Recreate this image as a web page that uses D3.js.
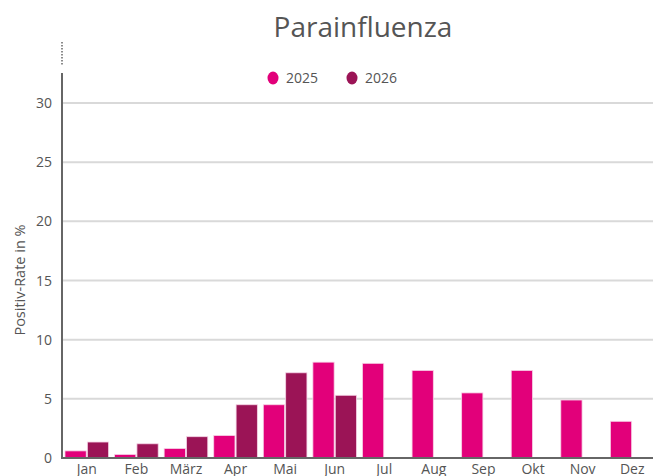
<!DOCTYPE html>
<html>
<head>
<meta charset="utf-8">
<script src="https://cdn.jsdelivr.net/npm/d3@7"></script>
<style>
  body { margin: 0; background: #fff; }
  svg { display: block; font-family: "Open Sans", sans-serif; }
</style>
</head>
<body>
<script>
var months = ['Jan', 'Feb', 'März', 'Apr', 'Mai', 'Jun', 'Jul', 'Aug', 'Sep', 'Okt', 'Nov', 'Dez'];
var seriesNames = ['2025', '2026'];
var values2025 = [0.6, 0.3, 0.8, 1.9, 4.5, 8.1, 8.0, 7.4, 5.5, 7.4, 4.9, 3.1];
var values2026 = [1.35, 1.2, 1.8, 4.5, 7.2, 5.3, null, null, null, null, null, null];
var yTicks = [0, 5, 10, 15, 20, 25, 30];
var colors = ['#e2007a', '#9b1456'];

var width = 653, height = 476;
var margin = { top: 73, left: 62, bottom: 18 };
var plotRight = 657;

var svg = d3.select('body').append('svg')
  .attr('width', width)
  .attr('height', height);

var x = d3.scaleBand()
  .domain(months)
  .range([margin.left, plotRight])
  .paddingInner(0.12)
  .paddingOuter(0.06);

var xInner = d3.scaleBand()
  .domain(seriesNames)
  .range([0, x.bandwidth()])
  .paddingInner(0.05);

var y = d3.scaleLinear()
  .domain([0, 30])
  .range([458, 103]);

// gridlines
svg.append('g')
  .selectAll('line')
  .data(yTicks.slice(1))
  .enter()
  .append('line')
  .attr('x1', margin.left)
  .attr('x2', width)
  .attr('y1', function(d) { return y(d); })
  .attr('y2', function(d) { return y(d); })
  .attr('stroke', '#d9d9d9')
  .attr('stroke-width', 2);

// y tick labels
svg.append('g')
  .selectAll('text')
  .data(yTicks)
  .enter()
  .append('text')
  .attr('x', 52)
  .attr('y', function(d) { return y(d) + 5; })
  .attr('text-anchor', 'end')
  .attr('font-size', 14)
  .attr('fill', '#555')
  .text(function(d) { return d; });

// bars
var data = [];
months.forEach(function(m, i) {
  [values2025[i], values2026[i]].forEach(function(v, j) {
    if (v != null) data.push({ month: m, series: seriesNames[j], value: v, color: colors[j] });
  });
});

svg.append('g')
  .selectAll('rect')
  .data(data)
  .enter()
  .append('rect')
  .attr('x', function(d) { return x(d.month) + xInner(d.series); })
  .attr('y', function(d) { return y(d.value); })
  .attr('width', xInner.bandwidth())
  .attr('height', function(d) { return y(0) - y(d.value); })
  .attr('fill', function(d) { return d.color; })
  .attr('stroke', '#f6d3e6')
  .attr('stroke-width', 0.8);

// x labels
svg.append('g')
  .selectAll('text')
  .data(months)
  .enter()
  .append('text')
  .attr('x', function(d) { return x(d) + x.bandwidth() / 2; })
  .attr('y', 474)
  .attr('text-anchor', 'middle')
  .attr('font-size', 14)
  .attr('fill', '#555')
  .text(function(d) { return d; });

// axes lines
svg.append('line')
  .attr('x1', margin.left).attr('x2', margin.left)
  .attr('y1', margin.top).attr('y2', y(0) + 1)
  .attr('stroke', '#666').attr('stroke-width', 2);
svg.append('line')
  .attr('x1', margin.left).attr('x2', margin.left)
  .attr('y1', 42).attr('y2', 66)
  .attr('stroke', '#666').attr('stroke-width', 1.5)
  .attr('stroke-dasharray', '1.5,1.5');
svg.append('line')
  .attr('x1', margin.left - 1).attr('x2', width)
  .attr('y1', y(0)).attr('y2', y(0))
  .attr('stroke', '#666').attr('stroke-width', 2);

// y axis title
svg.append('text')
  .attr('transform', 'translate(25,' + 280 + ') rotate(-90)')
  .attr('text-anchor', 'middle')
  .attr('font-size', 14.5)
  .attr('fill', '#555')
  .text('Positiv-Rate in %');

// title
svg.append('text')
  .attr('x', 363)
  .attr('y', 37)
  .attr('text-anchor', 'middle')
  .attr('font-size', 28)
  .attr('fill', '#555')
  .text('Parainfluenza');

// legend
var legendX = [273, 352];
var legend = svg.append('g')
  .selectAll('g')
  .data(seriesNames)
  .enter()
  .append('g')
  .attr('transform', function(d, i) { return 'translate(' + legendX[i] + ',78)'; });
legend.append('ellipse')
  .attr('rx', 5.5).attr('ry', 6.5)
  .attr('fill', function(d, i) { return colors[i]; });
legend.append('text')
  .attr('x', 13).attr('y', 5)
  .attr('font-size', 14)
  .attr('fill', '#555')
  .text(function(d) { return d; });
</script>
</body>
</html>
